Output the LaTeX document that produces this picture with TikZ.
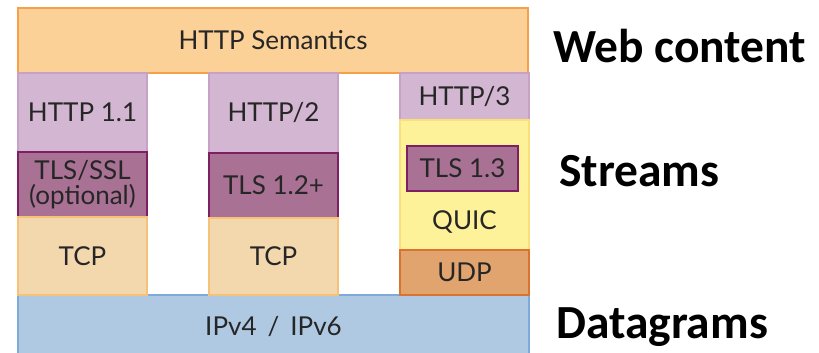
\documentclass[tikz,border=0pt]{standalone}
\usepackage{fontspec}
\newfontfamily\lblfont{Carlito}
\newfontfamily\boxfont{Lato}
\definecolor{semfill}{HTML}{FCD197}
\definecolor{semdraw}{HTML}{F7A04A}
\definecolor{httpfill}{HTML}{D3B6D1}
\definecolor{httpdraw}{HTML}{C8A2C6}
\definecolor{tlsfill}{HTML}{A97194}
\definecolor{tlsdraw}{HTML}{7E1F63}
\definecolor{tcpfill}{HTML}{F3D7AD}
\definecolor{tcpdraw}{HTML}{F6C27A}
\definecolor{quicfill}{HTML}{FDF29A}
\definecolor{quicdraw}{HTML}{F9E07A}
\definecolor{udpfill}{HTML}{E2A46F}
\definecolor{udpdraw}{HTML}{D9732F}
\definecolor{ipfill}{HTML}{AFC9E2}
\definecolor{ipdraw}{HTML}{7FAAD9}
\tikzset{
  layer/.style={rectangle, line width=1.4pt, inner sep=0pt, align=center,
    font=\boxfont\fontsize{26}{24.5}\selectfont, text=black!85},
  sem/.style={layer, fill=semfill, draw=semdraw},
  http/.style={layer, fill=httpfill, draw=httpdraw},
  tls/.style={layer, fill=tlsfill, draw=tlsdraw},
  tcp/.style={layer, fill=tcpfill, draw=tcpdraw},
  quic/.style={layer, fill=quicfill, draw=quicdraw},
  udp/.style={layer, fill=udpfill, draw=udpdraw},
  ip/.style={layer, fill=ipfill, draw=ipdraw},
  side/.style={anchor=base west, inner sep=0pt, font=\lblfont\bfseries\fontsize{47.5}{52}\selectfont}
}
\begin{document}
\begin{tikzpicture}[x=1pt,y=1pt]
\useasboundingbox (0,0) rectangle (819,353);
\node[ip, minimum width=511pt, minimum height=63pt] (ip) at (273.5,26.5) {IPv4 \,/\, IPv6};
\node[sem, minimum width=510pt, minimum height=65pt] (sem) at (273,312.5) {HTTP Semantics};
% column 1
\node[http, minimum width=129pt, minimum height=79pt] (h11) at (82.5,240.5) {HTTP 1.1};
\node[tls, minimum width=129pt, minimum height=65pt] (tls1) at (82.5,168.5) {TLS/SSL\\(optional)};
\node[tcp, minimum width=129pt, minimum height=78pt] (tcp1) at (82.5,97) {TCP};
% column 2
\node[http, minimum width=129pt, minimum height=80pt] (h2) at (273.5,240) {HTTP/2};
\node[tls, minimum width=129pt, minimum height=65pt] (tls2) at (273.5,167.5) {TLS 1.2+};
\node[tcp, minimum width=129pt, minimum height=77pt] (tcp2) at (273.5,96.5) {TCP};
% column 3
\node[http, minimum width=129pt, minimum height=47pt] (h3) at (464.5,256.5) {HTTP/3};
\node[quic, minimum width=129pt, minimum height=130pt] (quic) at (464.5,168) {};
\node[layer, anchor=center] (quictext) at (464.5,130.5) {QUIC};
\node[tls, minimum width=111pt, minimum height=45pt] (tls3) at (462.5,184.5) {TLS 1.3};
\node[udp, minimum width=129pt, minimum height=45pt] (udp) at (464.5,80.5) {UDP};
% side labels
\node[side] (web) at (553,290) {Web content};
\node[side] (streams) at (559,166) {Streams};
\node[side] (dgram) at (556,14) {Datagrams};
\end{tikzpicture}
\end{document}
